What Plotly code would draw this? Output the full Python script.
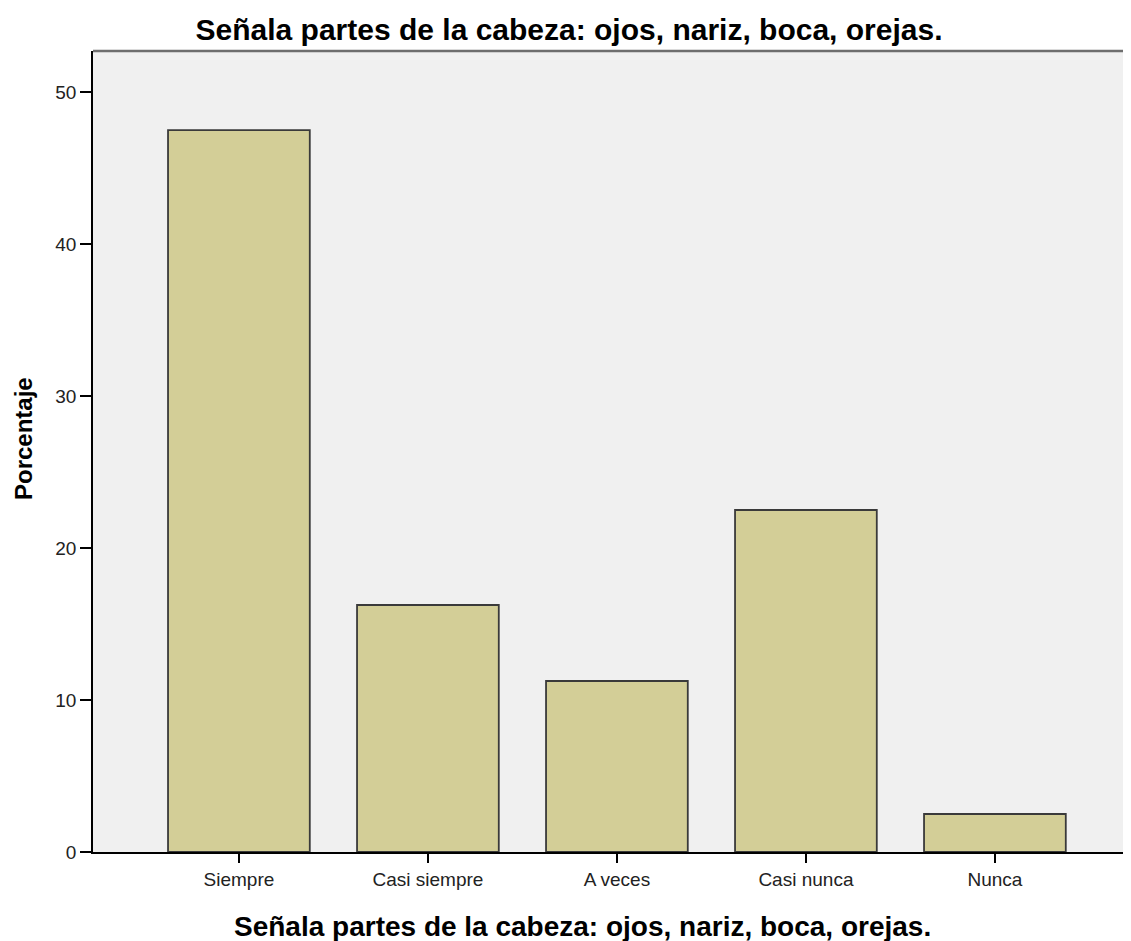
import plotly.graph_objects as go

categories = ["Siempre", "Casi siempre", "A veces", "Casi nunca", "Nunca"]
percentages = [47.5, 16.25, 11.25, 22.5, 2.5]
y_ticks = [0, 10, 20, 30, 40, 50]

title_text = "Señala partes de la cabeza: ojos, nariz, boca, orejas."
y_title = "Porcentaje"

W, H = 1123, 933
L, T, B = 85, 43, 89

fig = go.Figure(go.Bar(
    x=categories,
    y=percentages,
    marker=dict(color="#d3ce97", line=dict(color="#3a3a3a", width=1.8)),
    width=0.75,
))

fig.update_layout(
    width=W, height=H,
    margin=dict(l=L, r=0, t=T, b=B),
    paper_bgcolor="white",
    plot_bgcolor="#f0f0f0",
    font=dict(family="Liberation Sans, Arial, sans-serif", color="#000000"),
    title=dict(text="<b>" + title_text + "</b>", x=561 / W, xanchor="center",
               y=1 - 21 / H, yanchor="middle", font=dict(size=30)),
    showlegend=False,
    bargap=0.25,
    annotations=[
        dict(text="<b>" + title_text + "</b>", xref="paper", yref="paper",
             x=(574 - L) / (W - L), y=0, xanchor="center", yanchor="middle",
             yshift=-74, showarrow=False, font=dict(size=28, color="#000000")),
        dict(text="<b>" + y_title + "</b>", xref="paper", yref="paper",
             x=0, y=0.5156, xanchor="center", yanchor="middle", xshift=-70,
             textangle=-90, showarrow=False, font=dict(size=24, color="#000000")),
    ],
    shapes=[
        dict(type="line", xref="paper", yref="paper", x0=0, x1=1, y0=1, y1=1,
             line=dict(color="#6e6e6e", width=2.5), layer="above"),
    ],
)

fig.update_xaxes(
    range=[-0.772, 4.72],
    showline=True, linecolor="#000000", linewidth=1.5, mirror=False,
    ticks="outside", ticklen=9, tickcolor="#000000", tickwidth=1.5,
    tickfont=dict(size=19, color="#222222"),
    showgrid=False, zeroline=False,
)

fig.update_yaxes(
    range=[0, 52.7],
    tickvals=y_ticks,
    showline=True, linecolor="#000000", linewidth=1.5, mirror=False,
    ticks="outside", ticklen=11, tickcolor="#000000", tickwidth=1.5,
    tickfont=dict(size=19, color="#222222"),
    showgrid=False, zeroline=False,
)

fig.write_html("out.html")
